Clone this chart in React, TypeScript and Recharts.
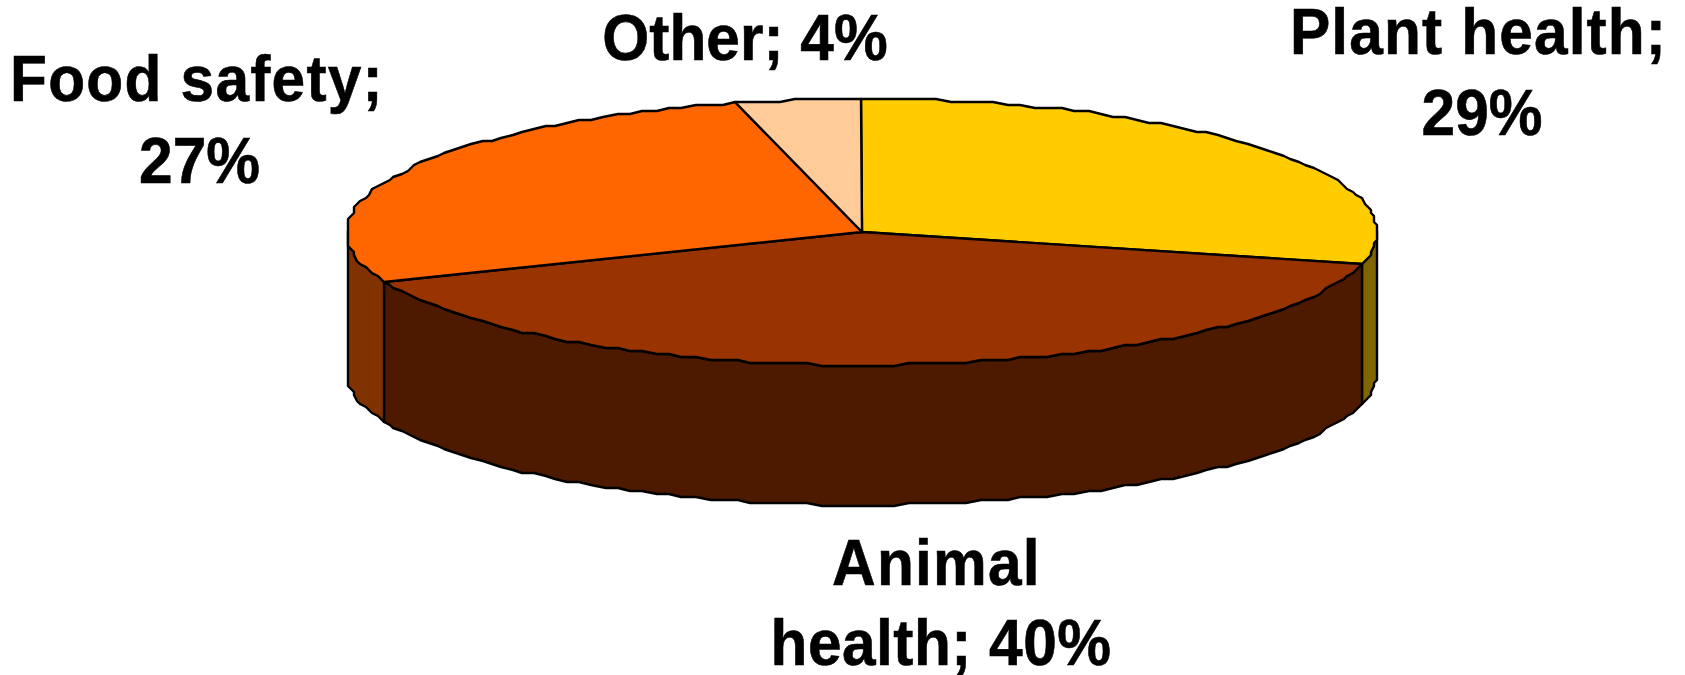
import React from "react";
import { PieChart, Pie } from "recharts";

const categories = ["Plant health", "Animal health", "Food safety", "Other"];
const shares = [29, 40, 27, 4];
const topColors = ["#FFCC00", "#993300", "#FF6600", "#FFCC99"];
const wallColors = ["#806600", "#4D1A00", "#803300", "#806633"];
const labelLines = [
  ["Plant health;", "29%"],
  ["Animal", "health; 40%"],
  ["Food safety;", "27%"],
  ["Other; 4%"],
];
// per text line: centre x, baseline y, letter spacing
const labelLayout = [
  [[1478.5, 54, 1.2], [1482, 135, 0]],
  [[936.5, 585, 1.3], [941, 665, 0.5]],
  [[197, 101, 1.3], [199.5, 183, 0]],
  [[745, 60, 0]],
];

const data = categories.map((name, i) => ({ name, value: shares[i] }));

const WIDTH = 1685;
const HEIGHT = 675;
const CX = 862;
const CY = 232;
const RX = 515;
const RY = 133;
const DEPTH = 140;
const STEP = 1.6;
const GRID = 3;

const snap = (v: number) => Math.round(v / GRID) * GRID;

// Ellipse outline between two angles, snapped to a coarse grid like the source's low-res outline.
function rim(a0: number, a1: number, cx: number, cy: number, rx: number, dy = 0): string[] {
  const ry = (rx * RY) / RX;
  const list = [a0];
  const dir = a1 > a0 ? 1 : -1;
  let k = dir > 0 ? Math.floor(a0 / STEP) + 1 : Math.ceil(a0 / STEP) - 1;
  while ((k * STEP - a1) * dir < 0) {
    list.push(k * STEP);
    k += dir;
  }
  list.push(a1);
  return list.map((a) => {
    const t = (a * Math.PI) / 180;
    return `${snap(cx + rx * Math.cos(t))},${snap(cy - ry * Math.sin(t)) + dy}`;
  });
}

function TopFace(props: any) {
  const { cx, cy, outerRadius, startAngle, endAngle, index } = props;
  const pts = rim(startAngle, endAngle, cx, cy, outerRadius);
  return (
    <path
      d={`M${cx},${cy}L${pts.join("L")}Z`}
      fill={topColors[index]}
      stroke="#000"
      strokeWidth={2.4}
      strokeLinejoin="round"
    />
  );
}

function Wall(props: any) {
  const { cx, cy, outerRadius, startAngle, endAngle, index } = props;
  const s = Math.min(startAngle, 0);
  const e = Math.max(endAngle, -180);
  if (s <= e) return <g />;
  const upper = rim(s, e, cx, cy, outerRadius);
  const lower = rim(e, s, cx, cy, outerRadius, DEPTH);
  return (
    <path
      d={`M${upper.join("L")}L${lower.join("L")}Z`}
      fill={wallColors[index]}
      stroke="#000"
      strokeWidth={2.4}
      strokeLinejoin="round"
    />
  );
}

function SliceLabel(props: any) {
  const { index } = props;
  return (
    <g>
      {labelLines[index].map((line, i) => {
        const [x, y, spacing] = labelLayout[index][i];
        return (
          <text
            key={line}
            transform={`translate(${x} ${y}) scale(0.93 1)`}
            x={0}
            y={0}
            textAnchor="middle"
            fontFamily="'Liberation Sans', Arial, sans-serif"
            fontWeight={700}
            fontSize={65}
            letterSpacing={spacing}
            fill="#000"
            stroke="#000"
            strokeWidth={0.6}
          >
            {line}
          </text>
        );
      })}
    </g>
  );
}

export default function App() {
  return (
    <div style={{ position: "absolute", left: 0, top: 0, width: WIDTH, height: HEIGHT, background: "#fff" }}>
      <PieChart width={WIDTH} height={HEIGHT} margin={{ top: 0, right: 0, bottom: 0, left: 0 }}>
        <Pie
          data={data}
          dataKey="value"
          nameKey="name"
          cx={CX}
          cy={CY}
          outerRadius={RX}
          startAngle={90}
          endAngle={-270}
          paddingAngle={0}
          isAnimationActive={false}
          shape={Wall}
          label={false}
          labelLine={false}
        />
        <Pie
          data={data}
          dataKey="value"
          nameKey="name"
          cx={CX}
          cy={CY}
          outerRadius={RX}
          startAngle={90}
          endAngle={-270}
          paddingAngle={0}
          isAnimationActive={false}
          shape={TopFace}
          label={SliceLabel}
          labelLine={false}
        />
      </PieChart>
    </div>
  );
}
